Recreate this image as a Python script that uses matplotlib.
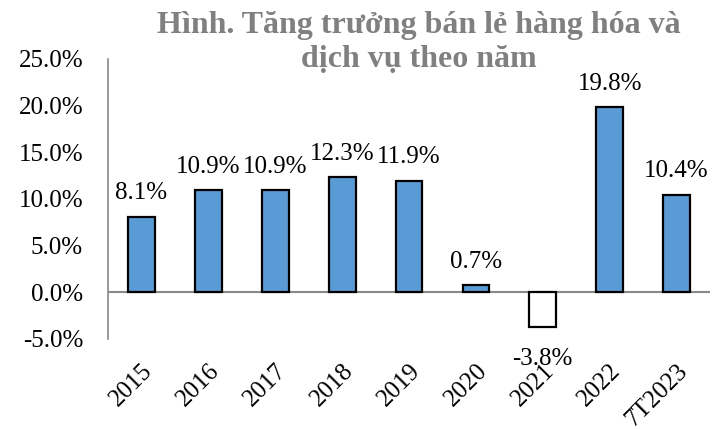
import matplotlib
matplotlib.use("Agg")
import matplotlib.pyplot as plt
import numpy as np

years = ["2015", "2016", "2017", "2018", "2019", "2020", "2021", "2022", "7T2023"]
growth = [8.1, 10.9, 10.9, 12.3, 11.9, 0.7, -3.8, 19.8, 10.4]
yticks = [-5, 0, 5, 10, 15, 20, 25]
title_lines = ["Hình. Tăng trưởng bán lẻ hàng hóa và", "dịch vụ theo năm"]

plt.rcParams['font.family'] = ['Liberation Serif', 'DejaVu Serif']

fig = plt.figure(figsize=(7.26, 4.29), dpi=100)
ax = fig.add_axes([0.1488, 0.2107, 0.978 - 0.1488, 0.8625 - 0.2107])

x = np.arange(len(years))
colors = ['#5B9BD5' if v >= 0 else 'white' for v in growth]
ax.bar(x, growth, width=0.4, color=colors, edgecolor='black', linewidth=1.6, zorder=3)

# nhãn giá trị
for xi, v in zip(x, growth):
    off = 17 if v >= 0 else -23
    ax.annotate(f"{v:.1f}%", (xi, v), xytext=(0, off), textcoords='offset points',
                ha='center', va='center', fontsize=18, zorder=4)

ax.axhline(0, color='#898989', linewidth=1.5, zorder=2)
ax.set_xlim(-0.5, len(years) - 0.5)
ax.set_ylim(-5, 25)
ax.set_yticks(yticks)
ax.set_yticklabels([f"{t:.1f}%" for t in yticks], fontsize=18)
ax.set_xticks(x)
ax.set_xticklabels(years, rotation=45, ha='right', rotation_mode='anchor', fontsize=18)
ax.tick_params(axis='y', length=0, pad=18)
ax.tick_params(axis='x', length=0, pad=15)

for s in ['top', 'right', 'bottom']:
    ax.spines[s].set_visible(False)
ax.spines['left'].set_color('#898989')
ax.spines['left'].set_linewidth(1.2)

# tiêu đề hai dòng
for line, base in zip(title_lines, [33, 67]):
    fig.text(419 / 726, 1 - base / 429, line, ha='center', va='baseline', fontsize=23,
             fontweight='bold', color='#808080')

fig.savefig("out.png", dpi=100)
